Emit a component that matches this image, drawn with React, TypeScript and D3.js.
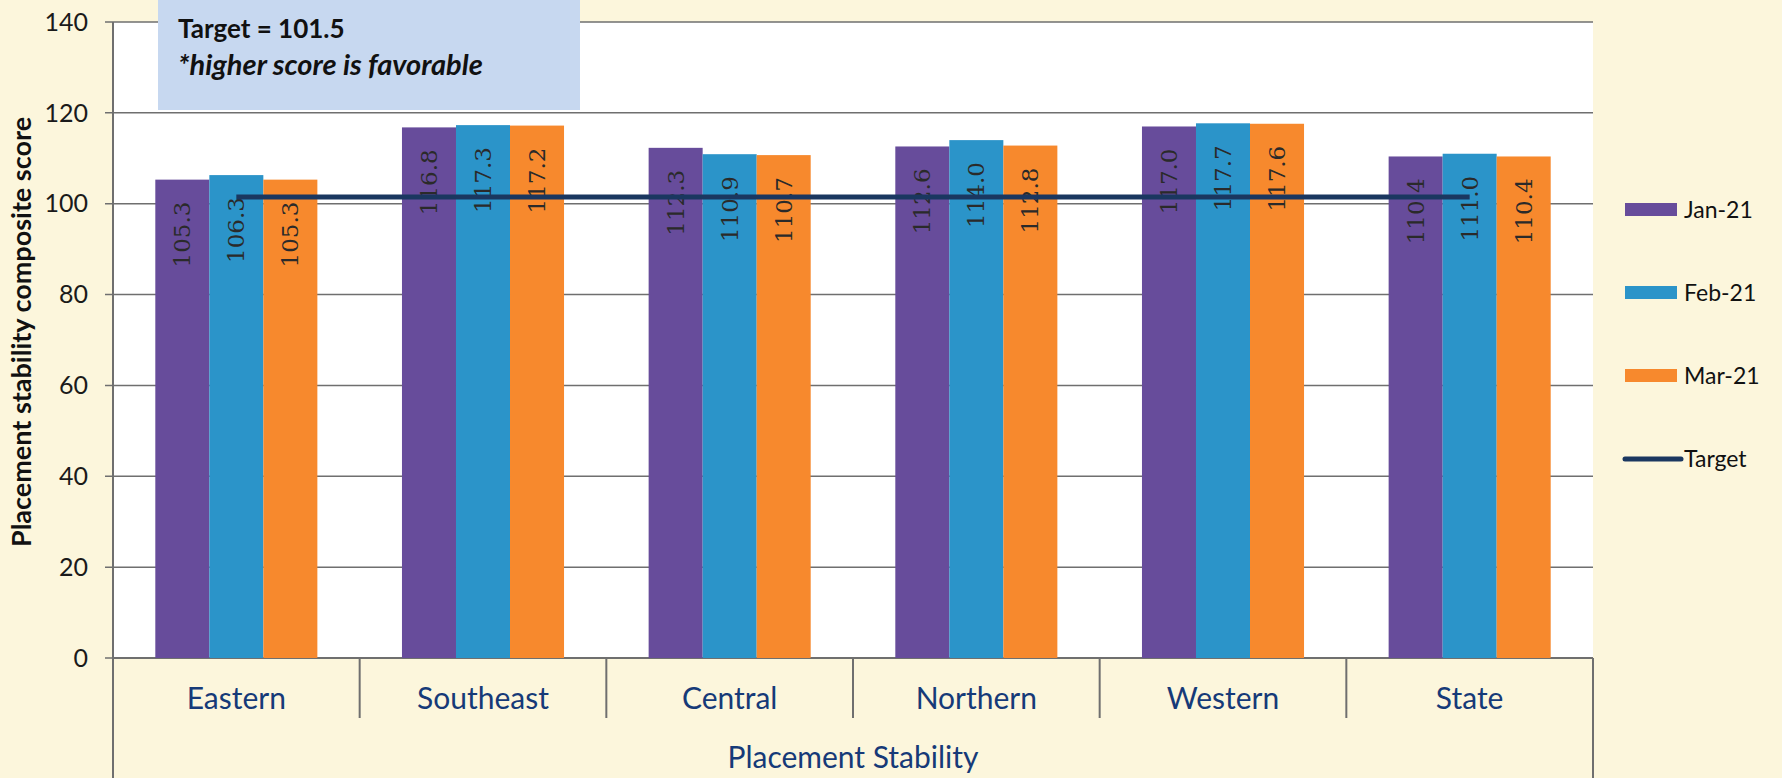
import React, { useEffect, useRef } from 'react';
import * as d3 from 'd3';

const categories = ['Eastern', 'Southeast', 'Central', 'Northern', 'Western', 'State'];
const seriesNames = ['Jan-21', 'Feb-21', 'Mar-21'];
const jan21 = [105.3, 116.8, 112.3, 112.6, 117.0, 110.4];
const feb21 = [106.3, 117.3, 110.9, 114.0, 117.7, 111.0];
const mar21 = [105.3, 117.2, 110.7, 112.8, 117.6, 110.4];
const target = 101.5;
const yTicks = [0, 20, 40, 60, 80, 100, 120, 140];
const colors = ['#674c9b', '#2b94c9', '#f7892d'];
const targetColor = '#1a3760';

const W = 1782;
const H = 778;
const margin = { top: 22, right: 190, bottom: 120, left: 113 };

const App = () => {
  const ref = useRef<SVGSVGElement | null>(null);

  useEffect(() => {
    if (!ref.current) return;
    const svg = d3.select(ref.current);
    svg.selectAll('*').remove();

    const x0 = margin.left;
    const x1 = W - margin.right + 1;
    const yTop = margin.top;
    const yBot = H - margin.bottom;

    const x = d3.scaleBand<string>()
      .domain(categories)
      .range([x0, x1])
      .paddingInner(0.343)
      .paddingOuter(0.1715);
    const xs = d3.scaleBand<string>().domain(seriesNames).range([0, x.bandwidth()]);
    const y = d3.scaleLinear().domain([0, 140]).range([yBot, yTop]);

    // background paper
    svg.append('rect').attr('width', W).attr('height', H).attr('fill', '#fcf6dc');
    svg.append('rect')
      .attr('x', x0).attr('y', yTop)
      .attr('width', x1 - x0).attr('height', yBot - yTop)
      .attr('fill', '#ffffff');

    // gridlines + ticks
    svg.append('g').selectAll('line')
      .data(yTicks)
      .enter()
      .append('line')
      .attr('x1', x0 - 8).attr('x2', x1)
      .attr('y1', d => y(d)).attr('y2', d => y(d))
      .attr('stroke', '#6f6f6f')
      .attr('stroke-width', 1.5);

    svg.append('g').selectAll('text')
      .data(yTicks)
      .enter()
      .append('text')
      .attr('x', 88)
      .attr('y', d => y(d))
      .attr('dy', '0.35em')
      .attr('text-anchor', 'end')
      .attr('font-family', 'Lato, sans-serif')
      .attr('font-size', 25)
      .attr('fill', '#1a1a1a')
      .text(d => d);

    // axes lines
    svg.append('line').attr('x1', x0).attr('x2', x0).attr('y1', yTop).attr('y2', H)
      .attr('stroke', '#6f6f6f').attr('stroke-width', 2);
    svg.append('line').attr('x1', x1).attr('x2', x1).attr('y1', yBot).attr('y2', H)
      .attr('stroke', '#6f6f6f').attr('stroke-width', 2);
    svg.append('line').attr('x1', x0).attr('x2', x1).attr('y1', yBot).attr('y2', yBot)
      .attr('stroke', '#6f6f6f').attr('stroke-width', 2);
    const step = x.step();
    svg.append('g').selectAll('line')
      .data(categories.slice(1))
      .enter()
      .append('line')
      .attr('x1', d => (x(d) as number) - step * 0.1715)
      .attr('x2', d => (x(d) as number) - step * 0.1715)
      .attr('y1', yBot).attr('y2', yBot + 60)
      .attr('stroke', '#6f6f6f').attr('stroke-width', 2);

    // bars
    const series = [jan21, feb21, mar21];
    series.forEach((vals, si) => {
      svg.append('g').selectAll('rect')
        .data(vals)
        .enter()
        .append('rect')
        .attr('x', (d, i) => (x(categories[i]) as number) + (xs(seriesNames[si]) as number))
        .attr('y', d => y(d))
        .attr('width', xs.bandwidth())
        .attr('height', d => yBot - y(d))
        .attr('fill', colors[si]);
    });

    // data labels
    series.forEach((vals, si) => {
      svg.append('g').selectAll('text')
        .data(vals)
        .enter()
        .append('text')
        .attr('transform', (d, i) => {
          const cx = (x(categories[i]) as number) + (xs(seriesNames[si]) as number) + xs.bandwidth() / 2;
          return `translate(${cx},${y(d) + 22}) rotate(-90)`;
        })
        .attr('text-anchor', 'end')
        .attr('dy', '0.35em')
        .attr('font-family', '"DejaVu Serif", serif')
        .attr('font-size', 23)
        .attr('fill', '#2a2a2a')
        .text(d => d.toFixed(1));
    });

    // target line
    const cxFirst = (x(categories[0]) as number) + x.bandwidth() / 2;
    const cxLast = (x(categories[categories.length - 1]) as number) + x.bandwidth() / 2;
    svg.append('line')
      .attr('x1', cxFirst).attr('x2', cxLast)
      .attr('y1', y(target)).attr('y2', y(target))
      .attr('stroke', targetColor)
      .attr('stroke-width', 5);

    // category labels
    svg.append('g').selectAll('text')
      .data(categories)
      .enter()
      .append('text')
      .attr('x', d => (x(d) as number) + x.bandwidth() / 2)
      .attr('y', 709)
      .attr('text-anchor', 'middle')
      .attr('font-family', 'Lato, sans-serif')
      .attr('font-size', 30)
      .attr('fill', '#163a78')
      .text(d => d);

    svg.append('text')
      .attr('x', (x0 + x1) / 2)
      .attr('y', 768)
      .attr('text-anchor', 'middle')
      .attr('font-family', 'Lato, sans-serif')
      .attr('font-size', 30)
      .attr('fill', '#163a78')
      .text('Placement Stability');

    svg.append('text')
      .attr('transform', `translate(31,${(yTop + yBot) / 2 - 8}) rotate(-90)`)
      .attr('text-anchor', 'middle')
      .attr('font-family', 'Lato, sans-serif')
      .attr('font-weight', 'bold')
      .attr('font-size', 27)
      .attr('fill', '#111')
      .text('Placement stability composite score');

    // annotation box
    svg.append('rect')
      .attr('x', 158).attr('y', 0).attr('width', 422).attr('height', 110)
      .attr('fill', '#c7d8f0');
    svg.append('text')
      .attr('x', 178).attr('y', 38)
      .attr('font-family', 'Lato, sans-serif')
      .attr('font-weight', 'bold')
      .attr('font-size', 26)
      .attr('fill', '#111')
      .text('Target = 101.5');
    svg.append('text')
      .attr('x', 178).attr('y', 75)
      .attr('font-family', 'Lato, sans-serif')
      .attr('font-weight', 'bold')
      .attr('font-style', 'italic')
      .attr('font-size', 29)
      .attr('fill', '#111')
      .text('*higher score is favorable');

    // legend
    const legend = [...seriesNames, 'Target'];
    const lg = svg.append('g').selectAll('g')
      .data(legend)
      .enter()
      .append('g')
      .attr('transform', (d, i) => `translate(1625,${210 + i * 83})`);
    lg.each(function (d, i) {
      const g = d3.select(this);
      if (i < 3) {
        g.append('rect').attr('x', 0).attr('y', -7).attr('width', 52).attr('height', 13)
          .attr('fill', colors[i]);
      } else {
        g.append('line').attr('x1', 0).attr('x2', 56).attr('y1', 0).attr('y2', 0)
          .attr('stroke', targetColor).attr('stroke-width', 5).attr('stroke-linecap', 'round');
      }
      g.append('text')
        .attr('x', 59)
        .attr('y', 0)
        .attr('dy', '0.35em')
        .attr('font-family', 'Lato, sans-serif')
        .attr('font-size', 23)
        .attr('fill', '#111')
        .text(d);
    });
  }, []);

  return (
    <svg ref={ref} width={W} height={H} style={{ position: 'absolute', left: 0, top: 0 }}></svg>
  );
};

export default App;
